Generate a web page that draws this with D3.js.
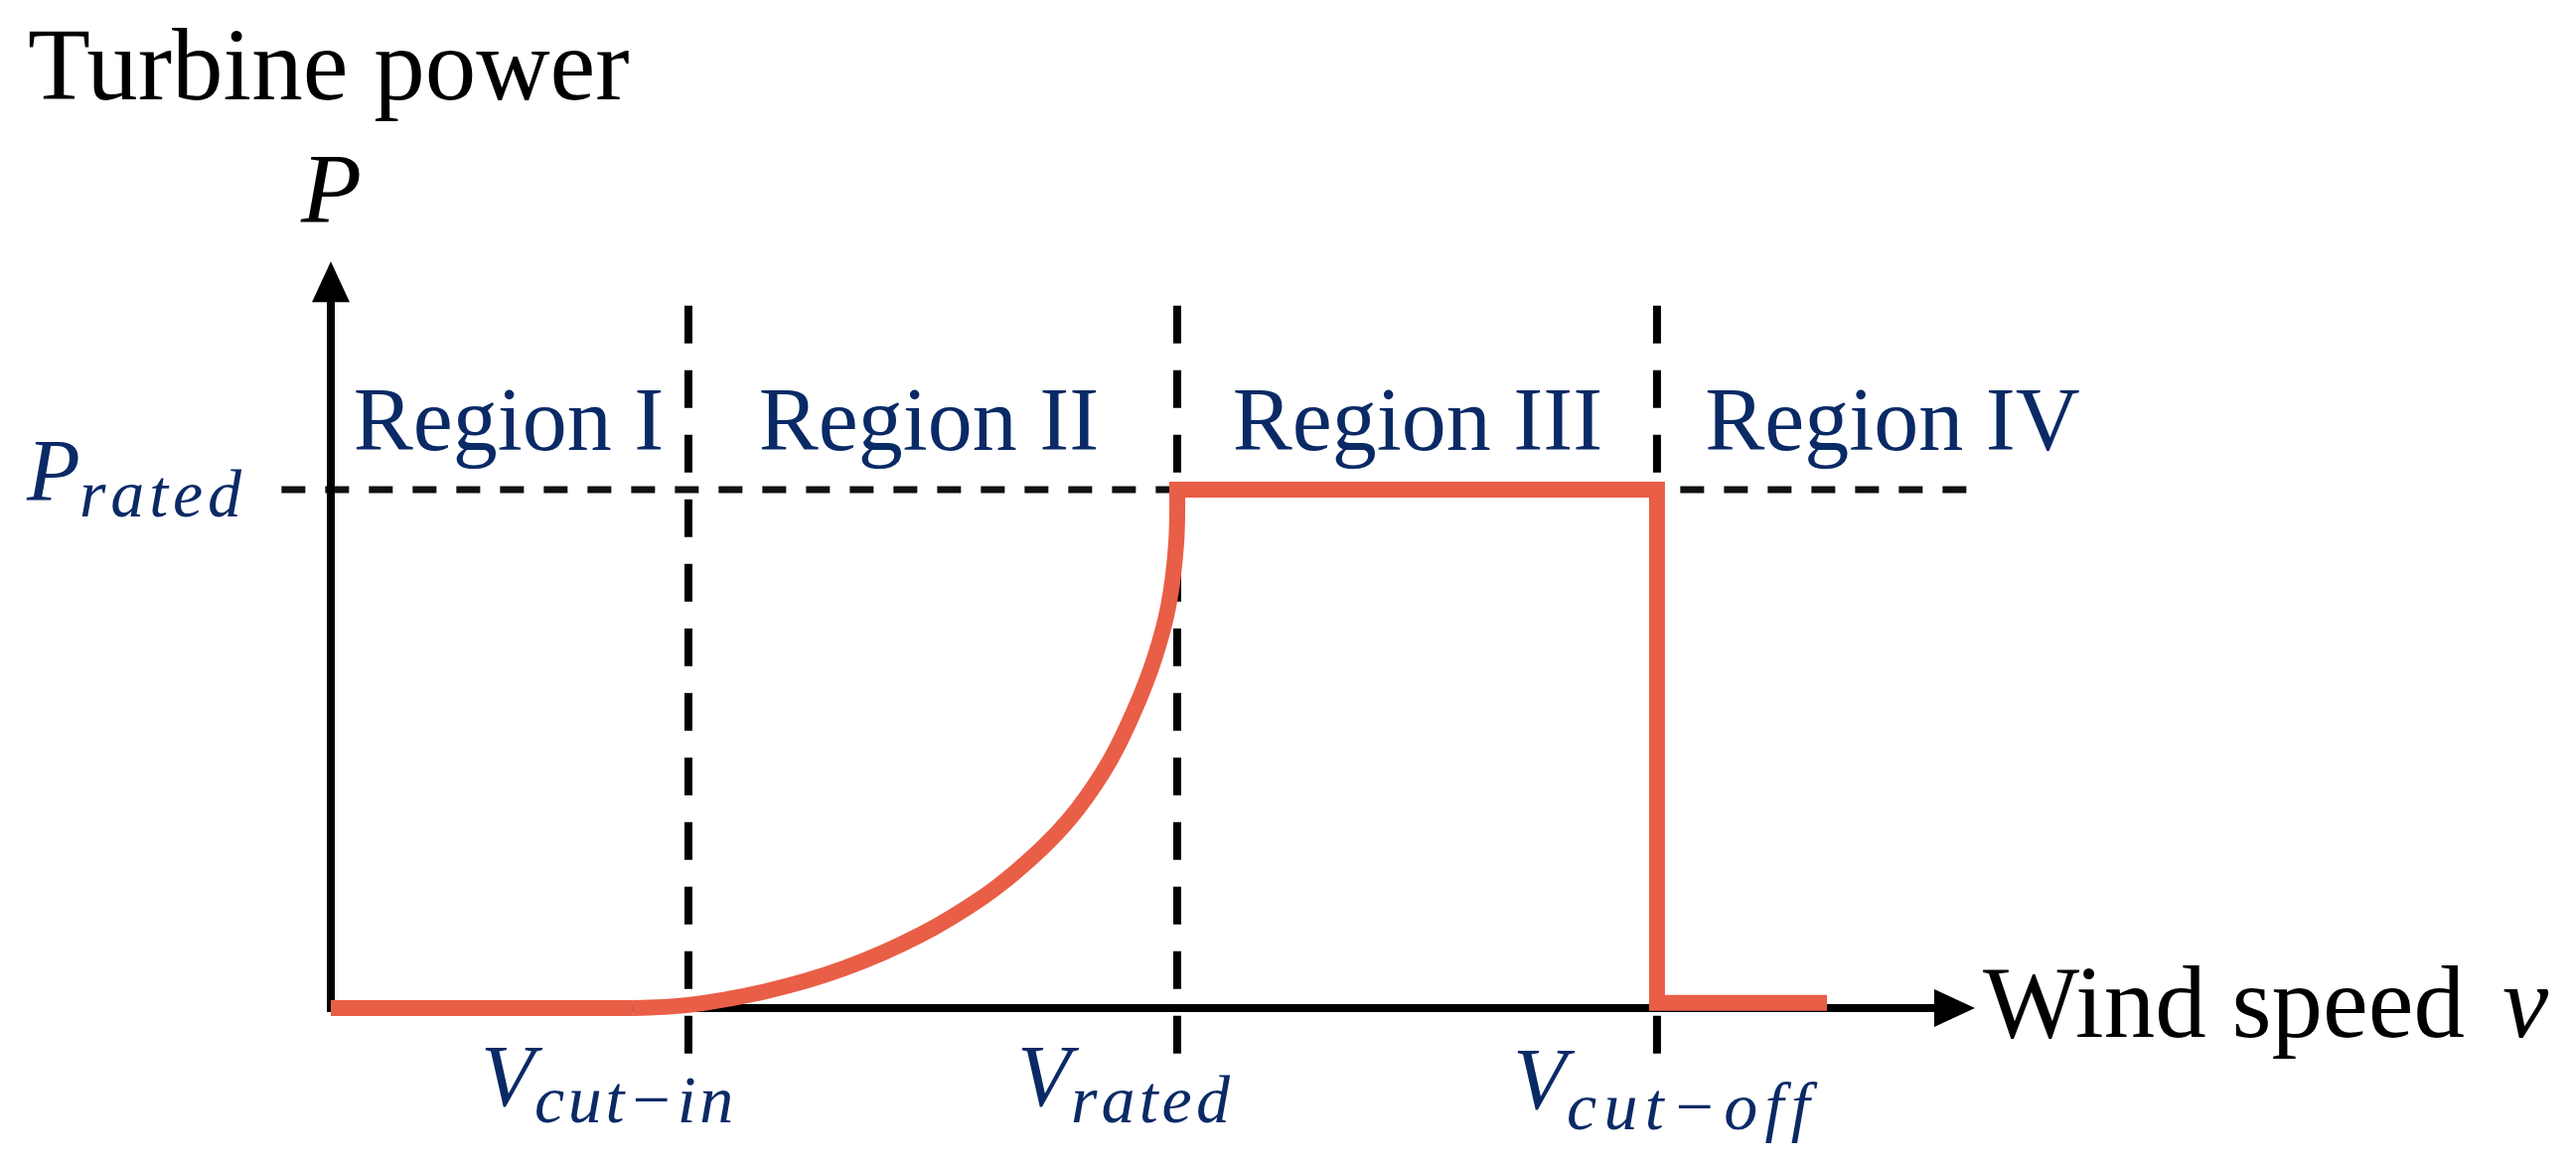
<!DOCTYPE html>
<html><head><meta charset="utf-8">
<script src="https://cdn.jsdelivr.net/npm/d3@7"></script>
<style>html,body{margin:0;padding:0;background:#fff;} svg{display:block;}</style>
</head><body><svg id="chart" width="2593" height="1173"></svg>
<script>
// ---- data ----
const yTitle = "Turbine power";
const xTitle = "Wind speed";
const speedNames = ["cut\u2212in", "rated", "cut\u2212off"];
const speedValues = [2.175, 5.148, 8.066];
const regionNames = ["Region I", "Region II", "Region III", "Region IV"];
const regionCenters = [1.082, 3.637, 6.610, 9.498];
const ratedPower = 1;
const region1V = [0, 1.842];
const region1P = [0, 0];
const region2V = [1.842, 2.175, 2.654, 3.117, 3.578, 3.970, 4.151, 4.363, 4.544, 4.743, 4.894, 5.009, 5.094, 5.142, 5.148];
const region2P = [0, 0.006, 0.033, 0.076, 0.140, 0.215, 0.259, 0.320, 0.385, 0.480, 0.579, 0.674, 0.775, 0.897, 1.0];
const region34V = [5.148, 8.066, 8.066, 9.10];
const region34P = [1, 1, 0.01, 0.01];
const xMax = 10, yMax = 1.44;

// ---- layout ----
const navy = "#0a2a66", red = "#e95e46";
const serif = "'Liberation Serif','Times New Roman',serif";
const svg = d3.select("#chart");
svg.append("rect").attr("width", 2593).attr("height", 1173).attr("fill", "#fff");
const x = d3.scaleLinear().domain([0, xMax]).range([333, 1988]);
const y = d3.scaleLinear().domain([0, 1]).range([1015, 493]);

// guides
const guideTop = 1.355, guideBottom = -0.09;
svg.selectAll("line.vguide").data(speedValues).enter().append("line")
  .attr("class", "vguide")
  .attr("x1", d => x(d)).attr("x2", d => x(d))
  .attr("y1", y(guideTop)).attr("y2", y(guideBottom))
  .attr("stroke", "#000").attr("stroke-width", 8).attr("stroke-dasharray", "38 27");
svg.append("line")
  .attr("x1", x(-0.30)).attr("x2", x(9.976))
  .attr("y1", y(ratedPower)).attr("y2", y(ratedPower))
  .attr("stroke", "#111").attr("stroke-width", 7).attr("stroke-dasharray", "24 20");

// axes
svg.append("line").attr("x1", x(0)).attr("x2", x(xMax) - 30).attr("y1", y(0)).attr("y2", y(0))
  .attr("stroke", "#000").attr("stroke-width", 8);
svg.append("line").attr("x1", x(0)).attr("x2", x(0)).attr("y1", y(0) + 4).attr("y2", y(yMax) + 30)
  .attr("stroke", "#000").attr("stroke-width", 8);
const xt = x(xMax), yt = y(yMax);
svg.append("path").attr("d", `M${xt},${y(0)} L${xt - 41},${y(0) - 19} L${xt - 41},${y(0) + 19} Z`).attr("fill", "#000");
svg.append("path").attr("d", `M${x(0)},${yt} L${x(0) - 19},${yt + 41} L${x(0) + 19},${yt + 41} Z`).attr("fill", "#000");

// power curve
const lin = d3.line().x(d => x(d[0])).y(d => y(d[1]));
const smooth = d3.line().x(d => x(d[0])).y(d => y(d[1])).curve(d3.curveCatmullRom.alpha(0.5));
const r1 = region1V.map((v, i) => [v, region1P[i]]);
const r2 = region2V.map((v, i) => [v, region2P[i]]);
const r34 = region34V.map((v, i) => [v, region34P[i]]);
svg.append("path").attr("d", lin(r1)).attr("fill", "none").attr("stroke", red).attr("stroke-width", 16);
svg.append("path").attr("d", smooth(r2) + lin(r34).replace(/^M/, "L"))
  .attr("fill", "none").attr("stroke", red).attr("stroke-width", 16)
  .attr("stroke-linejoin", "miter").attr("stroke-linecap", "butt");

// helper: spread a text span to a target width
function spread(node, target) {
  const n = node.textContent.length;
  const w = node.getComputedTextLength();
  d3.select(node).attr("letter-spacing", Math.max(0, (target - w) / n));
}

// texts
svg.append("text").attr("x", 28).attr("y", 100).attr("font-family", serif).attr("font-size", 103)
  .attr("fill", "#000").text(yTitle);
svg.append("text").attr("x", 303).attr("y", 223).attr("font-family", serif).attr("font-style", "italic")
  .attr("font-size", 100).attr("fill", "#000").text("P");
const xl = svg.append("text").attr("x", 1996).attr("y", 1044).attr("font-family", serif).attr("font-size", 103).attr("fill", "#000");
xl.append("tspan").text(xTitle);
xl.append("tspan").attr("x", 2519).attr("font-style", "italic").attr("font-size", 104).text("v");

svg.selectAll("text.region").data(regionNames).enter().append("text")
  .attr("class", "region")
  .attr("x", (d, i) => x(regionCenters[i])).attr("y", 453)
  .attr("text-anchor", "middle").attr("font-family", serif).attr("font-size", 90)
  .attr("fill", navy).text(d => d);

// P_rated
const pr = svg.append("text").attr("x", 27).attr("y", 503).attr("font-family", serif).attr("font-style", "italic")
  .attr("fill", navy);
pr.append("tspan").attr("font-size", 88).text("P");
const prSub = pr.append("tspan").attr("x", 80).attr("y", 520).attr("font-size", 68).text("rated");
spread(prSub.node(), 168);

// V labels
const vOffsets = [-209, -161, -145];
const subLen = [204, 164, 252];
const vBase = [1113, 1113, 1116];
const sBase = [1130, 1130, 1137];
speedValues.forEach((v, i) => {
  const lx = x(v) + vOffsets[i];
  const t = svg.append("text").attr("x", lx).attr("y", vBase[i]).attr("font-family", serif)
    .attr("font-style", "italic").attr("fill", navy);
  t.append("tspan").attr("font-size", 88).text("V");
  const s = t.append("tspan").attr("x", lx + 54).attr("y", sBase[i]).attr("font-size", 68).text(speedNames[i]);
  spread(s.node(), subLen[i]);
});
</script></body></html>
